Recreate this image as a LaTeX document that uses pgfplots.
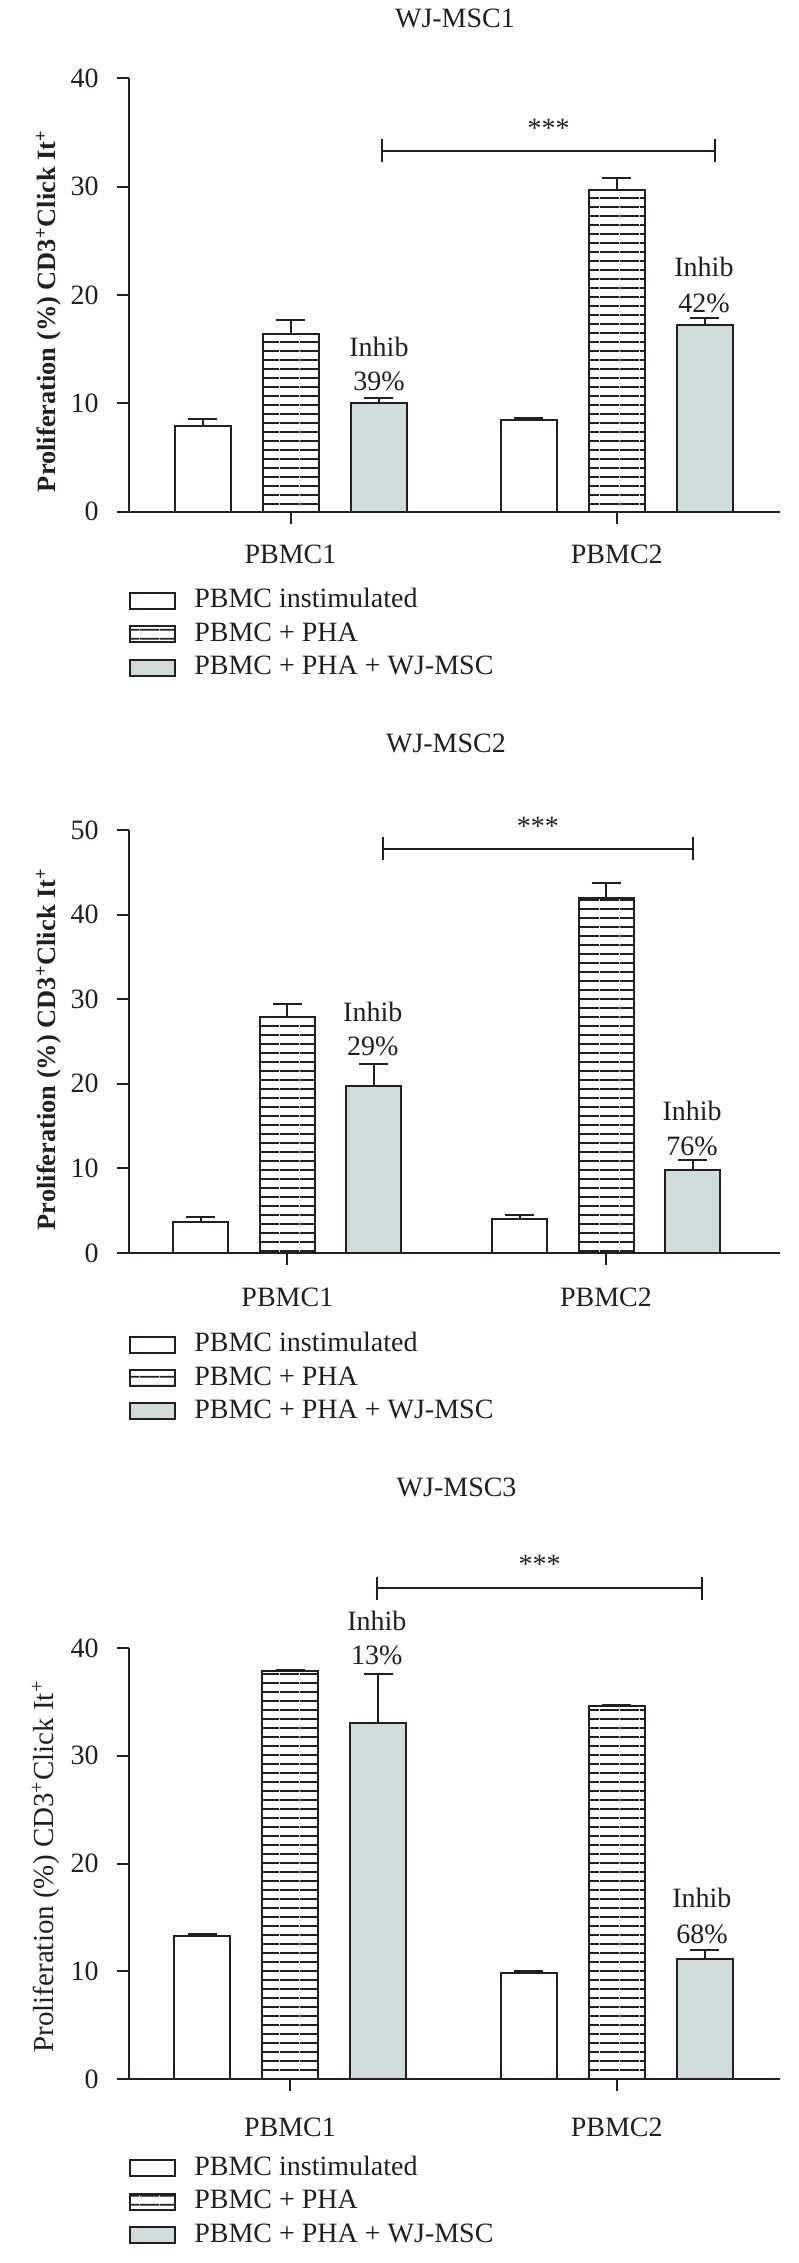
\documentclass[border=0pt]{standalone}
\usepackage{fontspec}
\setmainfont{Liberation Serif}
\usepackage{pgfplots}
\pgfplotsset{compat=1.18}
\usetikzlibrary{patterns}
\definecolor{ink}{HTML}{231F20}
\definecolor{msc}{HTML}{CFDDDD}
\pgfdeclarepatternformonly{hstripes}{\pgfqpoint{0pt}{0pt}}{\pgfqpoint{10pt}{4.5pt}}{\pgfqpoint{10pt}{4.5pt}}{%
  \pgfsetlinewidth{1pt}%
  \pgfpathmoveto{\pgfqpoint{0pt}{2.25pt}}%
  \pgfpathlineto{\pgfqpoint{10pt}{2.25pt}}%
  \pgfusepath{stroke}}
\newcommand\myfont{\fontsize{14}{16.8}\selectfont}
\pgfplotsset{
  panel/.style={
    scale only axis, width=325.35pt, anchor=south west,
    axis x line*=bottom, axis y line*=left,
    axis line style={line width=1pt, draw=ink},
    tick align=outside, major tick length=6pt,
    tick style={line width=1pt, draw=ink},
    xtick={0,1}, xticklabels={PBMC1,PBMC2},
    ymin=0, ytick distance=10,
    ybar, clip=false,
    tick label style={font=\myfont, text=ink},
    /pgf/number format/assume math mode=true,
    yticklabel style={anchor=east, inner sep=0pt, xshift=-9.15pt},
    title style={font=\myfont, text=ink, anchor=base},
    legend cell align=left,
    legend style={draw=none, fill=none, inner sep=0pt, outer sep=0pt, anchor=north west,
      row sep=3.7pt, column sep=9pt,
      nodes={inner sep=0pt, text height=10pt, text depth=3pt, font=\myfont, text=ink}},
    legend entries={PBMC instimulated, PBMC + PHA, PBMC + PHA + WJ-MSC},
  },
  boxleg/.style={legend image code/.code={\draw[##1] (0pt,-4pt) rectangle (22.5pt,4pt);}},
  s1/.style={fill=white, draw=ink, line width=1pt, boxleg},
  s2/.style={pattern=hstripes, pattern color=ink, draw=ink, line width=1pt, boxleg},
  s3/.style={fill=msc, draw=ink, line width=1pt, boxleg},
  eb/.style={error bars/.cd, y dir=plus, y explicit, error mark=|,
    error bar style={line width=1pt, draw=ink},
    error mark options={line width=1pt, mark size=7.25pt, draw=ink}},
  brk/.style={sharp plot, forget plot, line width=1pt, draw=ink, mark=|, mark size=5.75pt, mark options={line width=1pt, draw=ink}},
}
\begin{document}
\begin{tikzpicture}
\path[use as bounding box] (0,0) rectangle (399pt,1131.5pt);
% ---------------- Panel 1
\begin{axis}[panel, at={(64.65pt,875.65pt)}, height=216.7pt,
  xmin=-0.494, xmax=1.5, ymax=40, bar width=28pt,
  title={WJ-MSC1}, title style={at={(axis description cs:0.5005,1.0884)}},
  ylabel={Proliferation (\%) CD3\textsuperscript{+}Click It\textsuperscript{+}},
  ylabel style={at={(axis description cs:-0.124,0.463)}, anchor=center, font=\fontsize{13.2}{15}\selectfont\bfseries, text=ink},
  xticklabel style={anchor=base, yshift=-20pt},
  legend style={at={(axis description cs:0,-0.176)}},
]
\addplot[s1, bar shift=-44pt, eb] coordinates {(0,7.9) +- (0,0.65) (1,8.42) +- (0,0.23)};
\addplot[s2, bar shift=0pt, eb] coordinates {(0,16.4) +- (0,1.25) (1,29.7) +- (0,1.1)};
\addplot[s3, bar shift=44pt, eb] coordinates {(0,10.0) +- (0,0.5) (1,17.23) +- (0,0.67)};
\addplot[brk] coordinates {(0.28,33.3) (1.302,33.3)};
\node[font=\myfont, text=ink] at (axis cs:0.791,35.4) {***};
\node[font=\myfont, text=ink] at (axis cs:0.271,15.2) {Inhib};
\node[font=\myfont, text=ink] at (axis cs:0.271,12.0) {39\%};
\node[font=\myfont, text=ink] at (axis cs:1.267,22.56) {Inhib};
\node[font=\myfont, text=ink] at (axis cs:1.267,19.24) {42\%};
\end{axis}
% ---------------- Panel 2
\begin{axis}[panel, at={(64.65pt,505pt)}, height=211.5pt,
  xmin=-0.496, xmax=1.546, ymax=50, bar width=27.5pt,
  title={WJ-MSC2}, title style={at={(axis description cs:0.4867,1.156)}},
  ylabel={Proliferation (\%) CD3\textsuperscript{+}Click It\textsuperscript{+}},
  ylabel style={at={(axis description cs:-0.124,0.482)}, anchor=center, font=\fontsize{13.2}{15}\selectfont\bfseries, text=ink},
  xticklabel style={anchor=base, yshift=-21pt},
  legend style={at={(axis description cs:0,-0.186)}},
]
\addplot[s1, bar shift=-43.25pt, eb] coordinates {(0,3.7) +- (0,0.55) (1,4.07) +- (0,0.41)};
\addplot[s2, bar shift=0pt, eb] coordinates {(0,27.9) +- (0,1.5) (1,41.95) +- (0,1.75)};
\addplot[s3, bar shift=43.25pt, eb] coordinates {(0,19.7) +- (0,2.65) (1,9.86) +- (0,1.18)};
\addplot[brk] coordinates {(0.299,47.8) (1.273,47.8)};
\node[font=\myfont, text=ink] at (axis cs:0.786,50.4) {***};
\node[font=\myfont, text=ink] at (axis cs:0.268,28.5) {Inhib};
\node[font=\myfont, text=ink] at (axis cs:0.268,24.4) {29\%};
\node[font=\myfont, text=ink] at (axis cs:1.27,16.8) {Inhib};
\node[font=\myfont, text=ink] at (axis cs:1.27,12.6) {76\%};
\end{axis}
% ---------------- Panel 3
\begin{axis}[panel, at={(64.65pt,92pt)}, height=215.5pt,
  xmin=-0.492, xmax=1.5, ymax=40, bar width=28pt,
  title={WJ-MSC3}, title style={at={(axis description cs:0.503,1.3248)}},
  ylabel={Proliferation (\%) CD3\textsuperscript{+}Click It\textsuperscript{+}},
  ylabel style={at={(axis description cs:-0.128,0.493)}, anchor=center, font=\fontsize{14.5}{16}\selectfont, text=ink},
  xticklabel style={anchor=base, yshift=-22.85pt},
  legend style={at={(axis description cs:0,-0.1768)}},
]
\addplot[s1, bar shift=-44pt, eb] coordinates {(0,13.27) +- (0,0.18) (1,9.8) +- (0,0.23)};
\addplot[s2, bar shift=0pt, eb] coordinates {(0,37.87) +- (0,0.05) (1,34.6) +- (0,0.07)};
\addplot[s3, bar shift=44pt, eb] coordinates {(0,33.0) +- (0,4.55) (1,11.1) +- (0,0.88)};
\addplot[brk] coordinates {(0.266,45.56) (1.261,45.56)};
\node[font=\myfont, text=ink] at (axis cs:0.764,47.8) {***};
\node[font=\myfont, text=ink] at (axis cs:0.266,42.5) {Inhib};
\node[font=\myfont, text=ink] at (axis cs:0.266,39.3) {13\%};
\node[font=\myfont, text=ink] at (axis cs:1.261,16.8) {Inhib};
\node[font=\myfont, text=ink] at (axis cs:1.261,13.4) {68\%};
\end{axis}
\end{tikzpicture}
\end{document}
